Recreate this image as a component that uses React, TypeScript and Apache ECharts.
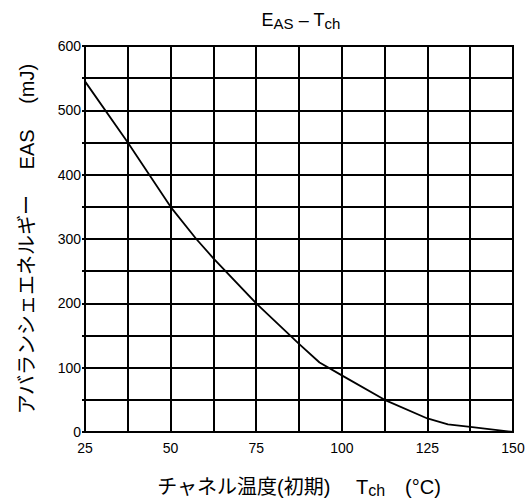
import React, { useEffect, useRef } from "react";
import * as echarts from "echarts";

const tempC = [25, 37.5, 50, 57.5, 62.5, 75, 87.5, 93.5, 100, 112.5, 125, 131, 137.5, 150];
const energyMJ = [545, 450, 350, 300, 270, 200, 137, 108, 88, 50, 21, 12, 8, 0];
const xTickLabels = [25, 50, 75, 100, 125, 150];
const yTickLabels = [0, 100, 200, 300, 400, 500, 600];

const FONT = "'Liberation Sans', Arial, 'Noto Sans CJK JP', sans-serif";
const CJK = "'Liberation Sans', 'Noto Sans CJK JP', sans-serif";

export default function App() {
  const ref = useRef<HTMLDivElement>(null);
  useEffect(() => {
    if (!ref.current) return;
    const chart = echarts.init(ref.current, undefined, { renderer: "svg" });
    chart.setOption({
      animation: false,
      backgroundColor: "#fff",
      title: {
        text: "{a|E}{s|AS}{a| – T}{s|ch}",
        left: 296,
        textAlign: "center",
        top: 4,
        textStyle: {
          fontWeight: "normal",
          rich: {
            a: { fontSize: 18, fontFamily: FONT, fontWeight: "normal", color: "#000", lineHeight: 22 },
            s: { fontSize: 15, fontFamily: FONT, fontWeight: "normal", color: "#000", lineHeight: 13, verticalAlign: "bottom" },
          },
        },
      },
      grid: {
        left: 85,
        right: 16,
        top: 46,
        bottom: 68,
        containLabel: false,
        outerBoundsMode: "none",
        show: true,
        borderColor: "#000",
        borderWidth: 2,
      },
      xAxis: {
        type: "value",
        min: 25,
        max: 150,
        interval: 12.5,
        axisLine: { show: true, lineStyle: { color: "#000", width: 2 } },
        axisTick: { show: false },
        splitLine: { show: true, lineStyle: { color: "#000", width: 2 } },
        axisLabel: {
          color: "#000",
          fontSize: 14,
          fontFamily: FONT,
          margin: 9,
          formatter: (v: number) => (xTickLabels.includes(v) ? String(v) : ""),
        },
        name: "{j|チャネル温度(初期)　 T}{s|ch}{j|　(°C)}",
        nameLocation: "middle",
        nameGap: 43,
        nameTextStyle: {
          rich: {
            j: { fontSize: 20, fontFamily: CJK, color: "#000", lineHeight: 24 },
            s: { fontSize: 16, fontFamily: FONT, color: "#000", lineHeight: 14, verticalAlign: "bottom" },
          },
        },
      },
      yAxis: {
        type: "value",
        min: 0,
        max: 600,
        interval: 50,
        axisLine: { show: true, lineStyle: { color: "#000", width: 2 } },
        axisTick: {
          show: true,
          length: 3,
          lineStyle: { color: "#000", width: 2 },
          interval: (_i: number, v: any) => yTickLabels.includes(Number(v)),
        },
        splitLine: { show: true, lineStyle: { color: "#000", width: 2 } },
        axisLabel: {
          color: "#000",
          fontSize: 14,
          fontFamily: FONT,
          margin: 4,
          padding: [0, 0, 6, 0],
          formatter: (v: number) => (yTickLabels.includes(v) ? String(v) : ""),
        },
        name: "アバランシェエネルギー　 EAS　 (mJ)",
        nameLocation: "middle",
        nameGap: 48,
        nameTextStyle: { fontSize: 20, fontFamily: CJK, color: "#000" },
      },
      series: [
        {
          type: "line",
          data: tempC.map((t, i) => [t, energyMJ[i]]),
          showSymbol: false,
          lineStyle: { color: "#000", width: 1.8 },
          z: 5,
        },
      ],
    });
    return () => chart.dispose();
  }, []);
  return (
    <div
      ref={ref}
      style={{ position: "fixed", left: 0, top: 0, width: 529, height: 500 }}
    />
  );
}
